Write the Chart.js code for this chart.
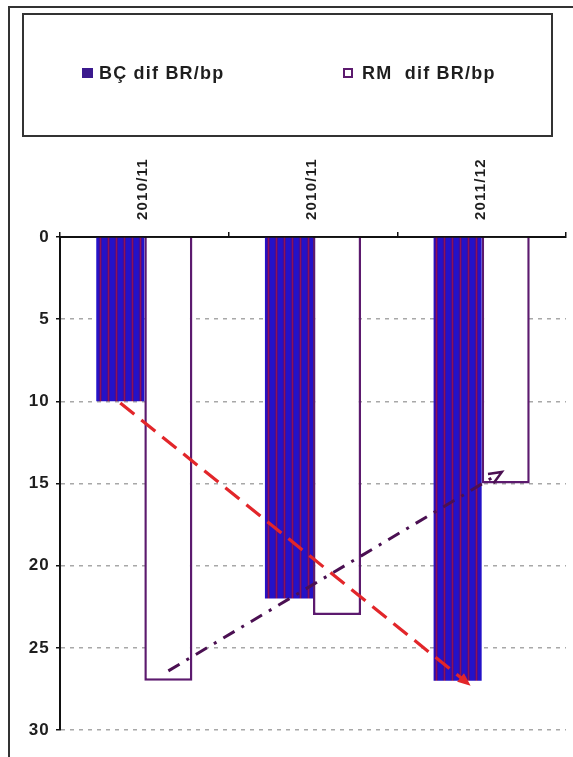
<!DOCTYPE html>
<html>
<head>
<meta charset="utf-8">
<script src="https://cdn.jsdelivr.net/npm/chart.js@4.4.1/dist/chart.umd.min.js"></script>
<style>
  html, body { margin: 0; padding: 0; background: #fff; }
  #wrap { width: 573px; height: 757px; }
</style>
</head>
<body>
<div id="wrap"><canvas id="myChart"></canvas></div>
<script>
const categories = ['2010/11', '2010/11', '2011/12'];
const seriesNames = ['BÇ dif BR/bp', 'RM  dif BR/bp'];
const bcValues = [10, 22, 27];
const rmValues = [27, 23, 15];
const yTicks = [0, 5, 10, 15, 20, 25, 30];
// trend arrows, start value (first category) and end value (last category)
const bcTrend = [10.1, 27.3];
const rmTrend = [26.4, 14.3];

// striped fill of the BÇ bars
function stripes() {
  const c = document.createElement('canvas');
  c.width = 8; c.height = 4;
  const g = c.getContext('2d');
  const cols = ['#2412c8', '#2412c8', '#2a10bc', '#4a0c90', '#8e1258', '#4a0c90', '#2412c8', '#2412c8'];
  cols.forEach((col, i) => { g.fillStyle = col; g.fillRect(i, 0, 1, 4); });
  return g.createPattern(c, 'repeat');
}

const frameAndLegend = {
  id: 'frameAndLegend',
  beforeDraw: (chart) => {
    const ctx = chart.ctx;
    ctx.save();
    ctx.fillStyle = '#fff';
    ctx.fillRect(0, 0, chart.width, chart.height);
    ctx.restore();
    ctx.letterSpacing = '1.2px';
  },
  beforeDatasetsDraw: (chart) => {
    chart.ctx.letterSpacing = '0px';
  },
  afterDraw: (chart) => {
    const ctx = chart.ctx;
    ctx.save();
    ctx.strokeStyle = '#333';
    ctx.lineWidth = 2;
    // outer frame
    ctx.beginPath();
    ctx.moveTo(9, chart.height);
    ctx.lineTo(9, 7);
    ctx.lineTo(chart.width, 7);
    ctx.stroke();
    // legend box
    ctx.strokeRect(23, 14, 529, 122);
    // legend items
    const items = [
      { x: 82, tx: 99 },
      { x: 343, tx: 362 }
    ];
    ctx.font = 'bold 18px Arial, "Liberation Sans", sans-serif';
    ctx.textBaseline = 'middle';
    ctx.letterSpacing = '1.2px';
    chart.data.datasets.forEach((ds, i) => {
      const it = items[i];
      if (i === 0) {
        ctx.fillStyle = '#3b1a8e';
        ctx.fillRect(it.x, 68, 11, 10);
      } else {
        ctx.fillStyle = '#fff';
        ctx.fillRect(it.x, 68, 10, 10);
        ctx.strokeStyle = '#5c1a6e';
        ctx.lineWidth = 2;
        ctx.strokeRect(it.x + 1, 69, 8, 8);
      }
      ctx.fillStyle = '#1e1e1e';
      ctx.fillText(ds.label, it.tx, 74);
    });
    ctx.restore();
  }
};

const trendArrows = {
  id: 'trendArrows',
  afterDatasetsDraw: (chart) => {
    const ctx = chart.ctx;
    const y = chart.scales.y;
    const specs = [
      { ds: 0, vals: bcTrend, off: [0, 0.27], color: '#e2262a', dash: [18, 9], width: 3.2, head: 'fill' },
      { ds: 1, vals: rmTrend, off: [0, -0.08], color: '#4b1052', dash: [13, 8, 3, 8], width: 3, head: 'open' }
    ];
    specs.forEach((s) => {
      const bars = chart.getDatasetMeta(s.ds).data;
      const a = bars[0], b = bars[bars.length - 1];
      const x1 = a.x + s.off[0] * a.width, y1 = y.getPixelForValue(s.vals[0]);
      const x2 = b.x + s.off[1] * b.width, y2 = y.getPixelForValue(s.vals[1]);
      const ang = Math.atan2(y2 - y1, x2 - x1);
      const hl = 14;
      ctx.save();
      ctx.strokeStyle = s.color;
      ctx.fillStyle = s.color;
      ctx.lineWidth = s.width;
      ctx.setLineDash(s.dash);
      ctx.beginPath();
      ctx.moveTo(x1, y1);
      ctx.lineTo(x2 - Math.cos(ang) * 6, y2 - Math.sin(ang) * 6);
      ctx.stroke();
      ctx.setLineDash([]);
      ctx.beginPath();
      ctx.moveTo(x2 - hl * Math.cos(ang - 0.4), y2 - hl * Math.sin(ang - 0.4));
      ctx.lineTo(x2, y2);
      ctx.lineTo(x2 - hl * Math.cos(ang + 0.4), y2 - hl * Math.sin(ang + 0.4));
      if (s.head === 'fill') {
        ctx.closePath();
        ctx.fill();
      } else {
        ctx.lineWidth = 2.5;
        ctx.stroke();
      }
      ctx.restore();
    });
  }
};

const myChart = new Chart(document.getElementById('myChart').getContext('2d'), {
  type: 'bar',
  data: {
    labels: categories,
    datasets: [
      {
        label: seriesNames[0],
        data: bcValues,
        backgroundColor: stripes(),
        borderWidth: 0,
        categoryPercentage: 0.57,
        barPercentage: 1.0
      },
      {
        label: seriesNames[1],
        data: rmValues,
        backgroundColor: '#ffffff',
        borderColor: '#5c1a6e',
        borderWidth: 2.5,
        categoryPercentage: 0.57,
        barPercentage: 1.0
      }
    ]
  },
  options: {
    responsive: true,
    maintainAspectRatio: false,
    animation: false,
    layout: {
      padding: { top: 140, right: 7, bottom: 27, left: 0 }
    },
    scales: {
      x: {
        position: 'top',
        afterFit: (scale) => { scale.height = 97; },
        grid: {
          offset: true,
          drawOnChartArea: false,
          color: '#111',
          tickLength: 5,
          lineWidth: 1.5
        },
        border: { display: true, color: '#111', width: 2 },
        ticks: {
          minRotation: 90,
          maxRotation: 90,
          padding: 12,
          labelOffset: 17,
          color: '#1e1e1e',
          font: { family: 'Arial, "Liberation Sans", sans-serif', size: 15, weight: 'bold' }
        }
      },
      y: {
        reverse: true,
        min: 0,
        max: 30,
        afterFit: (scale) => { scale.width = 60; },
        afterBuildTicks: (scale) => { scale.ticks = yTicks.map(v => ({ value: v })); },
        grid: {
          color: (c) => c.tick && c.tick.value === 0 ? 'rgba(0,0,0,0)' : '#a8a8a8',
          lineWidth: 1.5,
          tickColor: '#111',
          tickBorderDash: [],
          tickLength: 4
        },
        border: { display: true, color: '#111', width: 2, dash: [4, 5] },
        ticks: {
          padding: 6,
          color: '#1e1e1e',
          font: { family: 'Arial, "Liberation Sans", sans-serif', size: 17, weight: 'bold' }
        }
      }
    },
    plugins: {
      legend: { display: false },
      tooltip: { enabled: false }
    }
  },
  plugins: [frameAndLegend, trendArrows]
});
</script>
</body>
</html>
